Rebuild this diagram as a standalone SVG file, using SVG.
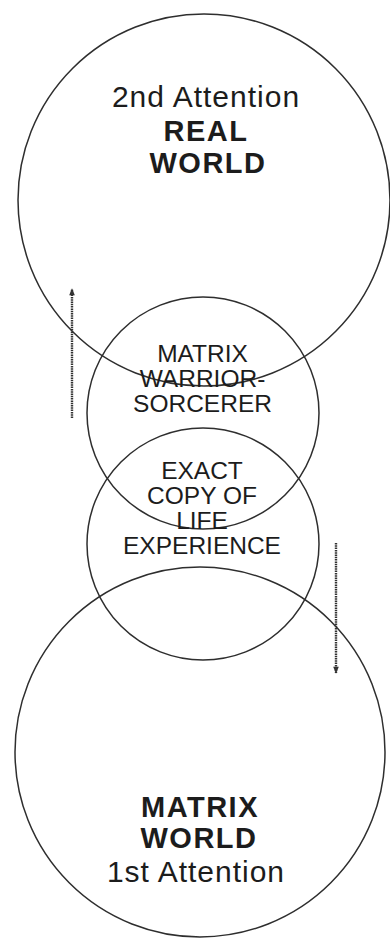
<svg xmlns="http://www.w3.org/2000/svg" width="390" height="942" viewBox="0 0 390 942">
<style>
.ring{fill:none;stroke:#2e2e2e;stroke-width:1.5}
.t{font-family:"Liberation Sans",Arial,Helvetica,sans-serif;fill:#1c1c1c;text-anchor:middle}
.reg{font-size:30px;letter-spacing:1px}
.bold{font-size:29px;font-weight:bold;letter-spacing:1.5px}
.mid{font-size:24.5px}
.dot{fill:none;stroke:#333;stroke-width:2.4;stroke-dasharray:1.5 0.8}
</style>
<defs>
<marker id="head" viewBox="0 0 10 10" refX="9" refY="5" markerWidth="10" markerHeight="7" markerUnits="userSpaceOnUse" orient="auto">
<path d="M0,1 L10,5 L0,9 Z" fill="#333"/>
</marker>
</defs>
<rect width="390" height="942" fill="#fff"/>
<g id="real-world">
<circle class="ring" cx="204" cy="200" r="186"/>
<text class="t reg" x="206" y="107">2nd Attention</text>
<text class="t bold" x="206" y="141">REAL</text>
<text class="t bold" x="208" y="173">WORLD</text>
</g>
<g id="matrix-warrior">
<circle class="ring" cx="203" cy="413" r="116"/>
<text class="t mid" x="202.5" y="362">MATRIX</text>
<text class="t mid" x="202.5" y="387">WARRIOR-</text>
<text class="t mid" x="202.5" y="412">SORCERER</text>
</g>
<g id="exact-copy">
<circle class="ring" cx="203" cy="544" r="116"/>
<text class="t mid" x="202" y="479">EXACT</text>
<text class="t mid" x="202" y="504">COPY OF</text>
<text class="t mid" x="202" y="529">LIFE</text>
<text class="t mid" x="202" y="554">EXPERIENCE</text>
</g>
<g id="matrix-world">
<circle class="ring" cx="200" cy="752" r="185"/>
<text class="t bold" x="200" y="817">MATRIX</text>
<text class="t bold" x="199" y="848">WORLD</text>
<text class="t reg" x="196" y="882">1st Attention</text>
</g>
<g id="connectors">
<path class="dot" d="M72,418 L72,289" marker-end="url(#head)"/>
<path class="dot" d="M336,543 L336,673" marker-end="url(#head)"/>
</g>
</svg>
